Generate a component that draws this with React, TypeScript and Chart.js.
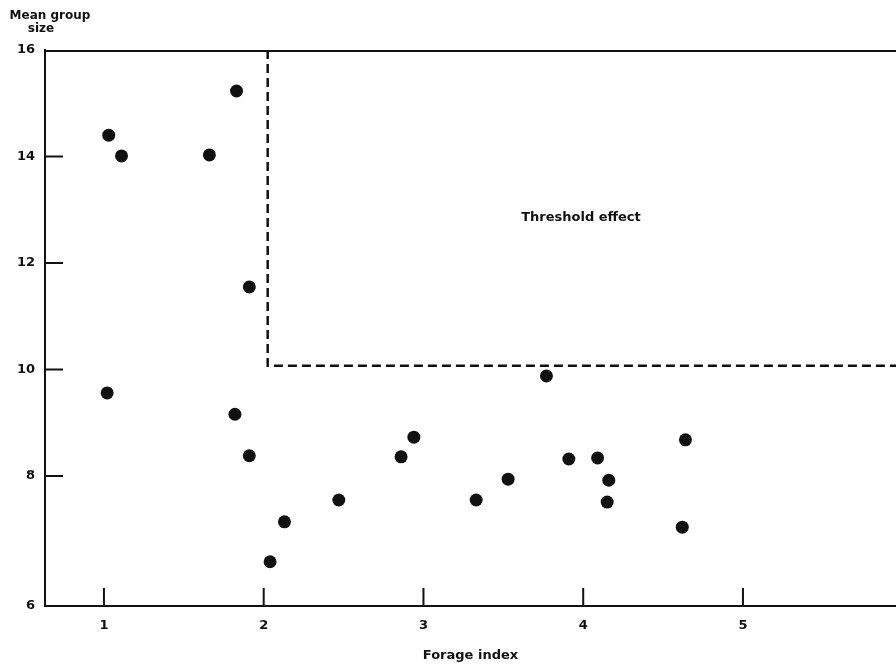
import React, { useEffect, useRef } from 'react';
import { Chart, registerables } from 'chart.js';

Chart.register(...registerables);

// Data
const forageIndex = [1.03, 1.11, 1.02, 1.66, 1.83, 1.91, 1.82, 1.91, 2.13, 2.04, 2.47, 2.86, 2.94, 3.33, 3.53, 3.77, 3.91, 4.09, 4.16, 4.15, 4.64, 4.62];
const meanGroupSize = [14.4, 14.01, 9.56, 14.03, 15.23, 11.55, 9.16, 8.38, 7.14, 6.39, 7.55, 8.36, 8.73, 7.55, 7.94, 9.88, 8.32, 8.34, 7.92, 7.51, 8.68, 7.04];

// Threshold region boundary
const thresholdX = 2.025;
const thresholdY = 10.07;

// Axis ranges and ticks
const xMin = 0.631;
const xMax = 5.958;
const yMin = 5.559;
const yMax = 16;
const xTickValues = [1, 2, 3, 4, 5];
const xTickLabels = ['1', '2', '3', '4', '5'];
const yTickValues = [yMin, 8, 10, 12, 14, 16];
const yTickLabels = ['6', '8', '10', '12', '14', '16'];

// Annotation text
const yTitleLines = ['Mean group', 'size'];
const xTitle = 'Forage index';
const regionLabel = 'Threshold effect';
const regionLabelPos = { x: 3.986, y: 12.845 };

const INK = '#111';
const FONT_FAMILY = '"DejaVu Sans", sans-serif';

const framePlugin = {
  id: 'frame',
  afterDraw(chart: any) {
    const { ctx, chartArea, scales } = chart;
    const { left, right, top, bottom } = chartArea;
    const xs = scales.x;
    const ys = scales.y;
    ctx.save();
    ctx.strokeStyle = INK;
    ctx.lineWidth = 2;
    // top frame line
    ctx.beginPath();
    ctx.moveTo(left, top + 1);
    ctx.lineTo(right, top + 1);
    ctx.stroke();
    // inward tick marks
    const tickLen = 18;
    for (let i = 1; i < yTickValues.length - 1; i++) {
      const py = ys.getPixelForValue(yTickValues[i]);
      ctx.beginPath();
      ctx.moveTo(left, py);
      ctx.lineTo(left + tickLen, py);
      ctx.stroke();
    }
    for (const v of xTickValues) {
      const px = xs.getPixelForValue(v);
      ctx.beginPath();
      ctx.moveTo(px, bottom);
      ctx.lineTo(px, bottom - tickLen);
      ctx.stroke();
    }
    // texts
    ctx.fillStyle = INK;
    ctx.font = `bold 12px ${FONT_FAMILY}`;
    ctx.textAlign = 'center';
    ctx.textBaseline = 'middle';
    ctx.fillText(yTitleLines[0], left + 5, 16);
    ctx.fillText(yTitleLines[1], left - 4, 29);
    ctx.font = `bold 13px ${FONT_FAMILY}`;
    ctx.fillText(regionLabel, xs.getPixelForValue(regionLabelPos.x), ys.getPixelForValue(regionLabelPos.y));
    ctx.restore();
  },
};

export default function App() {
  const canvasRef = useRef<HTMLCanvasElement | null>(null);

  useEffect(() => {
    const canvas = canvasRef.current;
    if (!canvas) return;
    const points = forageIndex.map((x, i) => ({ x, y: meanGroupSize[i] }));
    const threshold = [
      { x: thresholdX, y: yMax },
      { x: thresholdX, y: thresholdY },
      { x: xMax, y: thresholdY },
    ];
    const chart = new Chart(canvas, {
      type: 'scatter',
      data: {
        datasets: [
          {
            label: 'Threshold',
            data: threshold,
            showLine: true,
            borderColor: INK,
            borderWidth: 2.5,
            borderDash: [9, 5],
            pointRadius: 0,
            fill: false,
            tension: 0,
          } as any,
          {
            label: 'Mean group size',
            data: points,
            backgroundColor: INK,
            borderWidth: 0,
            pointRadius: 6.5,
            pointHoverRadius: 6.5,
          },
        ],
      },
      options: {
        animation: false,
        responsive: false,
        devicePixelRatio: 1,
        layout: { autoPadding: false, padding: { top: 50, right: 0, bottom: 0, left: 0 } },
        plugins: {
          legend: { display: false },
          tooltip: { enabled: false },
        },
        scales: {
          x: {
            type: 'linear',
            min: xMin,
            max: xMax,
            grid: { display: false, drawTicks: false },
            border: { display: true, color: INK, width: 2 },
            afterBuildTicks: (scale: any) => {
              scale.ticks = xTickValues.map((value) => ({ value }));
            },
            afterFit: (scale: any) => {
              scale.height = 62;
              scale.paddingLeft = 0;
              scale.paddingRight = 0;
            },
            ticks: {
              padding: 12,
              color: INK,
              font: { family: FONT_FAMILY, weight: 'bold', size: 13 },
              maxRotation: 0,
              callback: (_v: any, i: number) => xTickLabels[i],
            },
            title: {
              display: true,
              text: xTitle,
              color: INK,
              font: { family: FONT_FAMILY, weight: 'bold', size: 13 },
              padding: { top: 0, bottom: 5 },
            },
          },
          y: {
            type: 'linear',
            min: yMin,
            max: yMax,
            grid: { display: false, drawTicks: false },
            border: { display: true, color: INK, width: 2 },
            afterBuildTicks: (scale: any) => {
              scale.ticks = yTickValues.map((value) => ({ value }));
            },
            afterFit: (scale: any) => {
              scale.width = 45;
              scale.paddingTop = 0;
              scale.paddingBottom = 0;
            },
            ticks: {
              padding: 10,
              color: INK,
              font: { family: FONT_FAMILY, weight: 'bold', size: 13 },
              callback: (_v: any, i: number) => yTickLabels[i],
            },
          },
        },
      } as any,
      plugins: [framePlugin],
    });
    return () => chart.destroy();
  }, []);

  return (
    <div style={{ position: 'fixed', left: 0, top: 0, width: 896, height: 668, background: '#fff' }}>
      <canvas ref={canvasRef} width={896} height={668} style={{ display: 'block' }} />
    </div>
  );
}
